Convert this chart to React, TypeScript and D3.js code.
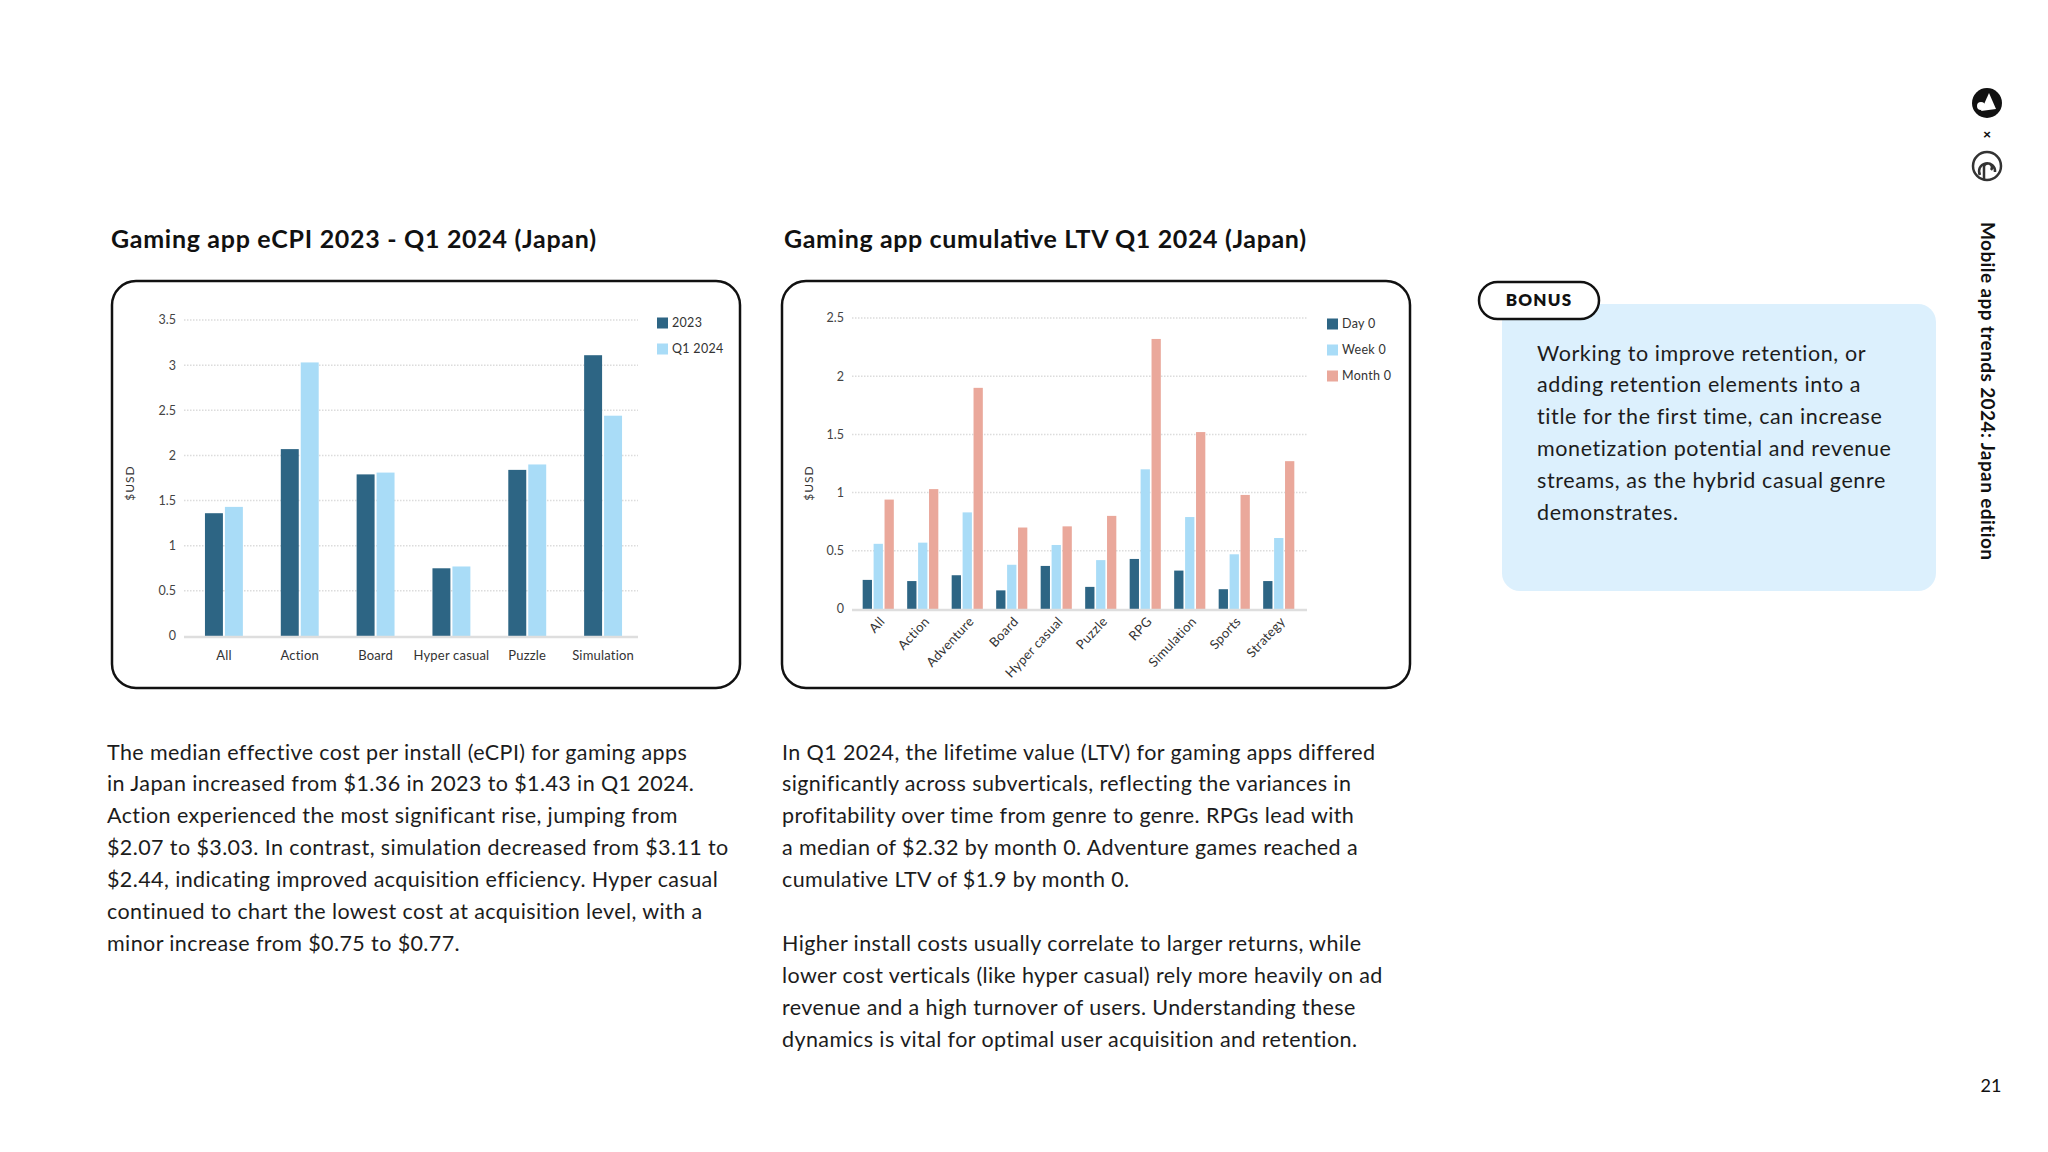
// @ts-nocheck
import React, { useRef, useEffect } from 'react';
import * as d3 from 'd3';

// eCPI chart data
const ecpiCategories = ['All', 'Action', 'Board', 'Hyper casual', 'Puzzle', 'Simulation'];
const ecpiSeries = ['2023', 'Q1 2024'];
const ecpi2023 = [1.36, 2.07, 1.79, 0.75, 1.84, 3.11];
const ecpiQ12024 = [1.43, 3.03, 1.81, 0.77, 1.9, 2.44];
const ecpiTicks = [0, 0.5, 1, 1.5, 2, 2.5, 3, 3.5];

// LTV chart data
const ltvCategories = ['All', 'Action', 'Adventure', 'Board', 'Hyper casual', 'Puzzle', 'RPG', 'Simulation', 'Sports', 'Strategy'];
const ltvSeries = ['Day 0', 'Week 0', 'Month 0'];
const ltvDay0 = [0.25, 0.24, 0.29, 0.16, 0.37, 0.19, 0.43, 0.33, 0.17, 0.24];
const ltvWeek0 = [0.56, 0.57, 0.83, 0.38, 0.55, 0.42, 1.2, 0.79, 0.47, 0.61];
const ltvMonth0 = [0.94, 1.03, 1.9, 0.7, 0.71, 0.8, 2.32, 1.52, 0.98, 1.27];
const ltvTicks = [0, 0.5, 1, 1.5, 2, 2.5];

const ecpiText = [
  'The median effective cost per install (eCPI) for gaming apps',
  'in Japan increased from $1.36 in 2023 to $1.43 in Q1 2024.',
  'Action experienced the most significant rise, jumping from',
  '$2.07 to $3.03. In contrast, simulation decreased from $3.11 to',
  '$2.44, indicating improved acquisition efficiency. Hyper casual',
  'continued to chart the lowest cost at acquisition level, with a',
  'minor increase from $0.75 to $0.77.',
];
const ltvText = [
  'In Q1 2024, the lifetime value (LTV) for gaming apps differed',
  'significantly across subverticals, reflecting the variances in',
  'profitability over time from genre to genre. RPGs lead with',
  'a median of $2.32 by month 0. Adventure games reached a',
  'cumulative LTV of $1.9 by month 0.',
  '',
  'Higher install costs usually correlate to larger returns, while',
  'lower cost verticals (like hyper casual) rely more heavily on ad',
  'revenue and a high turnover of users. Understanding these',
  'dynamics is vital for optimal user acquisition and retention.',
];
const bonusText = [
  'Working to improve retention, or',
  'adding retention elements into a',
  'title for the first time, can increase',
  'monetization potential and revenue',
  'streams, as the hybrid casual genre',
  'demonstrates.',
];

const DARK = '#2d6584';
const LIGHT = '#a9dcf7';
const SALMON = '#eaa89b';
const FONT = 'Lato, "Open Sans", sans-serif';

function drawBars(svg, opts) {
  const { cats, series, values, colors, yMax, ticks, xRange, yRange, padIn, padOut, subPad, rotate, labelY, gridX } = opts;
  const g = svg.append('g');

  const x0 = d3.scaleBand().domain(cats).range(xRange).paddingInner(padIn).paddingOuter(padOut);
  const x1 = d3.scaleBand().domain(series).range([0, x0.bandwidth()]).paddingInner(subPad);
  const y = d3.scaleLinear().domain([0, yMax]).range(yRange);

  // dotted gridlines
  g.selectAll('.grid')
    .data(ticks.filter(t => t > 0))
    .enter().append('line')
    .attr('x1', gridX[0]).attr('x2', gridX[1])
    .attr('y1', d => y(d)).attr('y2', d => y(d))
    .attr('stroke', '#dcdcdc').attr('stroke-width', 1.5)
    .attr('stroke-dasharray', '1.5,1.5');

  g.selectAll('.ytick')
    .data(ticks)
    .enter().append('text')
    .attr('x', gridX[0] - 8).attr('y', d => y(d))
    .attr('dy', '0.35em').attr('text-anchor', 'end')
    .attr('font-family', FONT).attr('font-size', 12.5).attr('fill', '#444')
    .text(d => d3.format('~g')(d));

  const groups = g.selectAll('.grp')
    .data(cats)
    .enter().append('g')
    .attr('transform', d => `translate(${x0(d)},0)`);

  groups.selectAll('rect')
    .data((d, i) => series.map((s, j) => ({ s, v: values[j][i], c: colors[j] })))
    .enter().append('rect')
    .attr('x', d => x1(d.s))
    .attr('width', x1.bandwidth())
    .attr('y', d => y(d.v))
    .attr('height', d => y(0) - y(d.v))
    .attr('fill', d => d.c);

  // baseline
  g.append('line')
    .attr('x1', gridX[0]).attr('x2', gridX[1])
    .attr('y1', y(0) + 1).attr('y2', y(0) + 1)
    .attr('stroke', '#dedede').attr('stroke-width', 2.5);

  if (rotate) {
    g.selectAll('.xl')
      .data(cats)
      .enter().append('text')
      .attr('transform', d => `translate(${x0(d) + x0.bandwidth() / 2 + 4},${labelY}) rotate(-47)`)
      .attr('text-anchor', 'end').attr('dy', '0.35em')
      .attr('font-family', FONT).attr('font-size', 13).attr('letter-spacing', 0.3).attr('fill', '#333')
      .text(d => d);
  } else {
    g.selectAll('.xl')
      .data(cats)
      .enter().append('text')
      .attr('x', d => x0(d) + x0.bandwidth() / 2)
      .attr('y', labelY).attr('dy', '0.35em')
      .attr('text-anchor', 'middle')
      .attr('font-family', FONT).attr('font-size', 13).attr('letter-spacing', 0.2).attr('fill', '#333')
      .text(d => d);
  }
  return g;
}

function legend(svg, x, y0, step, names, colors) {
  const lg = svg.append('g');
  names.forEach((n, i) => {
    lg.append('rect').attr('x', x).attr('y', y0 + i * step - 5.5).attr('width', 11).attr('height', 11).attr('fill', colors[i]);
    lg.append('text').attr('x', x + 15).attr('y', y0 + i * step).attr('dy', '0.35em')
      .attr('font-family', FONT).attr('font-size', 12.5).attr('letter-spacing', 0.3).attr('fill', '#333').text(n);
  });
}

function lines(svg, x, y0, step, arr, size, spacing, color) {
  arr.forEach((t, i) => {
    if (!t) return;
    svg.append('text').attr('x', x).attr('y', y0 + i * step).attr('dy', '0.35em')
      .attr('font-family', FONT).attr('font-size', size).attr('letter-spacing', spacing)
      .attr('fill', color).text(t);
  });
}

const App = () => {
  const svgRef = useRef(null);

  useEffect(() => {
    const svg = d3.select(svgRef.current);
    svg.selectAll('*').remove();

    svg.append('rect').attr('width', 2048).attr('height', 1152).attr('fill', '#fff');

    // titles
    svg.append('text').attr('x', 111).attr('y', 248).attr('font-family', FONT).attr('font-weight', 700)
      .attr('font-size', 25).attr('fill', '#111').attr('textLength', 485).attr('lengthAdjust', 'spacing')
      .text('Gaming app eCPI 2023 - Q1 2024 (Japan)');
    svg.append('text').attr('x', 784).attr('y', 248).attr('font-family', FONT).attr('font-weight', 700)
      .attr('font-size', 25).attr('fill', '#111').attr('textLength', 522).attr('lengthAdjust', 'spacing')
      .text('Gaming app cumulative LTV Q1 2024 (Japan)');

    // chart frames
    [112, 782].forEach(x => {
      svg.append('rect').attr('x', x).attr('y', 281).attr('width', 628).attr('height', 407)
        .attr('rx', 24).attr('fill', '#fff').attr('stroke', '#111').attr('stroke-width', 2.5);
    });

    drawBars(svg, {
      cats: ecpiCategories, series: ecpiSeries, values: [ecpi2023, ecpiQ12024], colors: [DARK, LIGHT],
      yMax: 3.5, ticks: ecpiTicks, xRange: [186, 641], yRange: [636, 320], padIn: 0.5, padOut: 0.25,
      subPad: 0.1, rotate: false, labelY: 655, gridX: [184, 638],
    });
    legend(svg, 657, 323, 26, ecpiSeries, [DARK, LIGHT]);
    svg.append('text').attr('transform', 'translate(134,483) rotate(-90)').attr('text-anchor', 'middle')
      .attr('font-family', FONT).attr('font-size', 12).attr('letter-spacing', 1).attr('fill', '#333').text('$USD');

    drawBars(svg, {
      cats: ltvCategories, series: ltvSeries, values: [ltvDay0, ltvWeek0, ltvMonth0], colors: [DARK, LIGHT, SALMON],
      yMax: 2.5, ticks: ltvTicks, xRange: [856, 1301], yRange: [609, 318], padIn: 0.3, padOut: 0.15,
      subPad: 0.15, rotate: true, labelY: 619, gridX: [852, 1307],
    });
    legend(svg, 1327, 324, 26, ltvSeries, [DARK, LIGHT, SALMON]);
    svg.append('text').attr('transform', 'translate(813,483) rotate(-90)').attr('text-anchor', 'middle')
      .attr('font-family', FONT).attr('font-size', 12).attr('letter-spacing', 1).attr('fill', '#333').text('$USD');

    // body text
    lines(svg, 107, 752, 31.9, ecpiText, 21.5, 0.4, '#1c1c1c');
    lines(svg, 782, 752, 31.9, ltvText, 21.5, 0.4, '#1c1c1c');

    // bonus box
    svg.append('rect').attr('x', 1502).attr('y', 304).attr('width', 434).attr('height', 287).attr('rx', 18).attr('fill', '#dcf0fd');
    svg.append('rect').attr('x', 1479).attr('y', 282).attr('width', 120).attr('height', 37).attr('rx', 18.5)
      .attr('fill', '#fff').attr('stroke', '#111').attr('stroke-width', 2.5);
    svg.append('text').attr('x', 1539).attr('y', 300).attr('dy', '0.35em').attr('text-anchor', 'middle')
      .attr('font-family', FONT).attr('font-weight', 800).attr('font-size', 17).attr('letter-spacing', 1.2)
      .attr('fill', '#111').text('BONUS');
    lines(svg, 1537, 353, 31.8, bonusText, 21.5, 0.6, '#1c1c1c');

    // side logos
    svg.append('circle').attr('cx', 1987).attr('cy', 103).attr('r', 15).attr('fill', '#111');
    svg.append('path').attr('d', 'M1981,111 L1989,93 L1996,109 Z').attr('fill', '#fff');
    svg.append('circle').attr('cx', 1981).attr('cy', 106).attr('r', 4).attr('fill', '#fff');
    svg.append('text').attr('x', 1987).attr('y', 134).attr('dy', '0.35em').attr('text-anchor', 'middle')
      .attr('font-family', FONT).attr('font-weight', 900).attr('font-size', 14).attr('fill', '#111').text('×');
    svg.append('circle').attr('cx', 1987).attr('cy', 166).attr('r', 14).attr('fill', 'none').attr('stroke', '#333').attr('stroke-width', 2.5);
    svg.append('path').attr('d', 'M1984,180 L1984,168 A4,4 0 1 1 1991,170 M1980,175 A8,8 0 1 1 1995,172')
      .attr('fill', 'none').attr('stroke', '#333').attr('stroke-width', 2.5);

    svg.append('text').attr('transform', 'translate(1981,222) rotate(90)')
      .attr('font-family', FONT).attr('font-weight', 700).attr('font-size', 19).attr('letter-spacing', 0.4)
      .attr('fill', '#111').text('Mobile app trends 2024: Japan edition');

    svg.append('text').attr('x', 1991).attr('y', 1086).attr('dy', '0.35em').attr('text-anchor', 'middle')
      .attr('font-family', FONT).attr('font-size', 18).attr('fill', '#111').text('21');
  }, []);

  return (
    <svg ref={svgRef} width={2048} height={1152} style={{ position: 'absolute', left: 0, top: 0 }}></svg>
  );
};

export default App;
